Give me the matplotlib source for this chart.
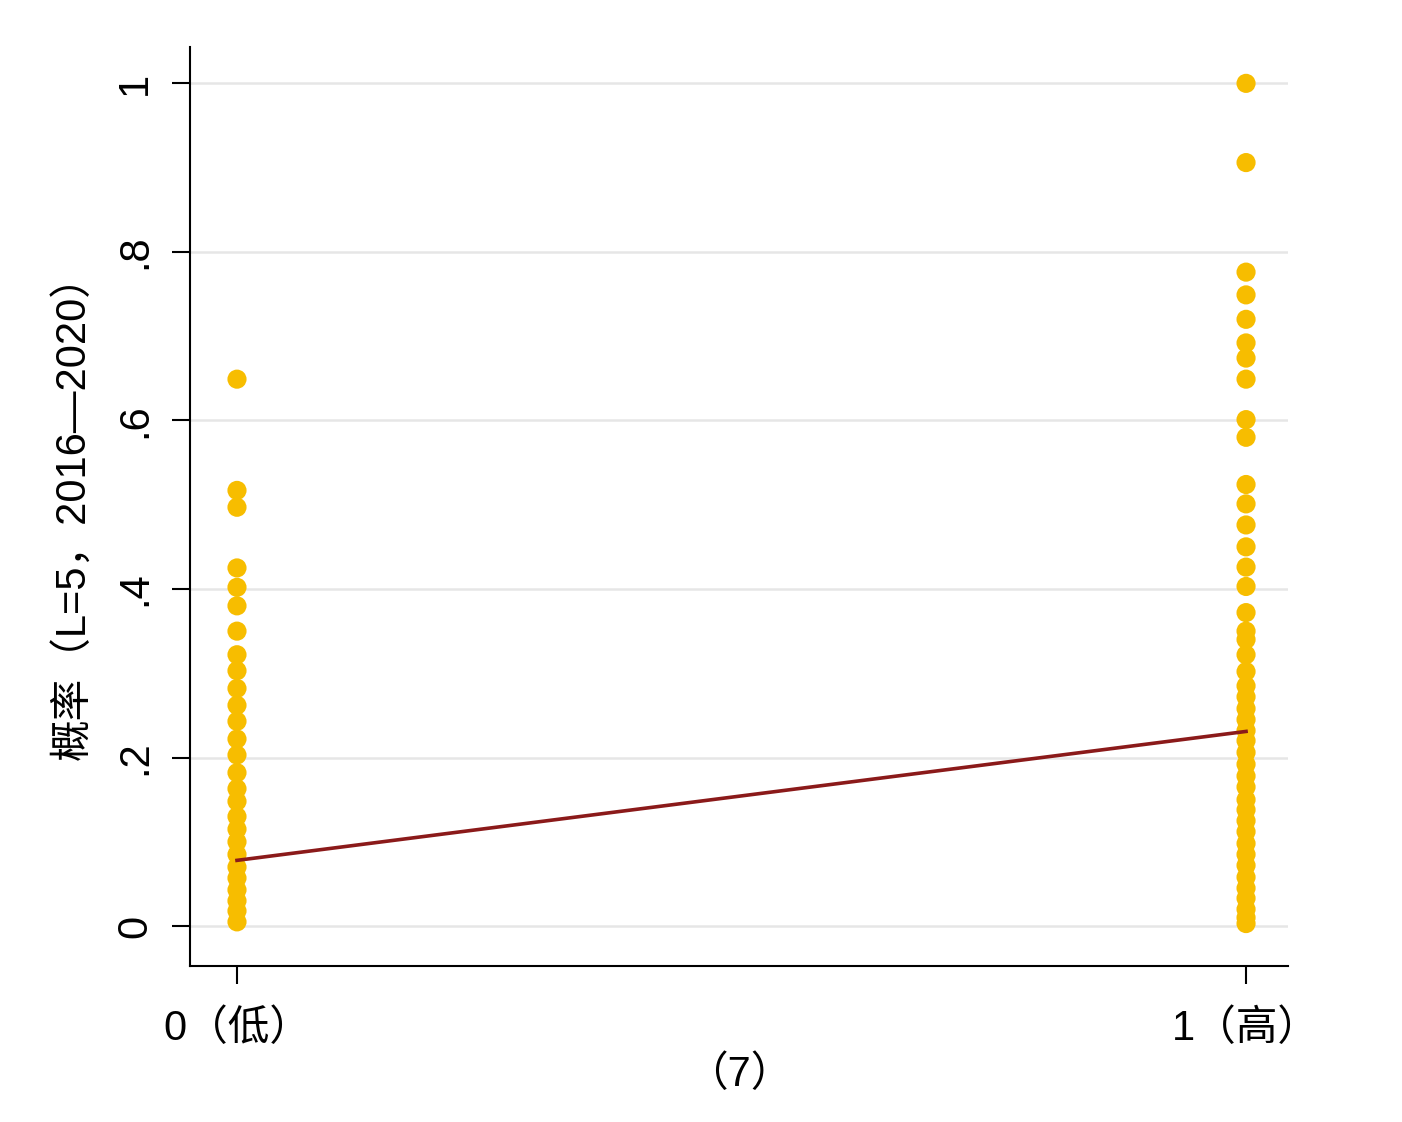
import matplotlib.pyplot as plt

plt.rcParams['font.family'] = ['Liberation Sans', 'Noto Sans CJK SC', 'DejaVu Sans']

groups = [0, 1]
group_labels = ["0（低）", "1（高）"]
low = [0.649, 0.517, 0.497, 0.425, 0.402, 0.380, 0.350, 0.322, 0.303, 0.282,
       0.262, 0.243, 0.222, 0.203, 0.182, 0.163, 0.148, 0.130, 0.115, 0.100,
       0.085, 0.070, 0.057, 0.043, 0.030, 0.018, 0.005]
high = [1.0, 0.906, 0.776, 0.749, 0.720, 0.692, 0.674, 0.649, 0.601, 0.580,
        0.524, 0.501, 0.476, 0.450, 0.426, 0.403, 0.372, 0.350, 0.340, 0.322,
        0.302, 0.285, 0.272, 0.258, 0.245, 0.232, 0.220, 0.206, 0.192, 0.178,
        0.165, 0.150, 0.138, 0.125, 0.112, 0.098, 0.085, 0.072, 0.058, 0.045,
        0.033, 0.020, 0.010, 0.003]
fit_y = [0.078, 0.231]
yticks = [0, 0.2, 0.4, 0.6, 0.8, 1.0]
ytick_labels = ["0", ".2", ".4", ".6", ".8", "1"]

fig = plt.figure(figsize=(14.02, 11.22), dpi=100)
ax = fig.add_axes([0.1355, 0.139, 0.7832, 0.819])

for y in yticks:
    ax.axhline(y, color="#e6e6e6", lw=1.8, zorder=0)

ax.scatter([groups[0]] * len(low), low, s=190, color="#f7bd00", edgecolors="none", zorder=2)
ax.scatter([groups[1]] * len(high), high, s=190, color="#f7bd00", edgecolors="none", zorder=2)
ax.plot(groups, fit_y, color="#8b1a1a", lw=2.6, zorder=3)

ax.set_xlim(-0.0466, 1.0416)
ax.set_ylim(-0.0474, 1.043)
ax.set_xticks(groups)
ax.set_xticklabels(group_labels, fontsize=30)
ax.set_yticks(yticks)
ax.set_yticklabels(ytick_labels, fontsize=30, rotation=90, va="center")
ax.tick_params(axis="both", length=13, width=1.5)
ax.tick_params(axis="x", pad=18)
ax.tick_params(axis="y", pad=12)

ax.spines["top"].set_visible(False)
ax.spines["right"].set_visible(False)
ax.spines["left"].set_linewidth(1.5)
ax.spines["bottom"].set_linewidth(1.5)

ax.set_xlabel("（7）", fontsize=30, labelpad=4)
ax.set_ylabel("概率（L=5，2016—2020）", fontsize=30, labelpad=16)

fig.savefig("out.png", dpi=100)
